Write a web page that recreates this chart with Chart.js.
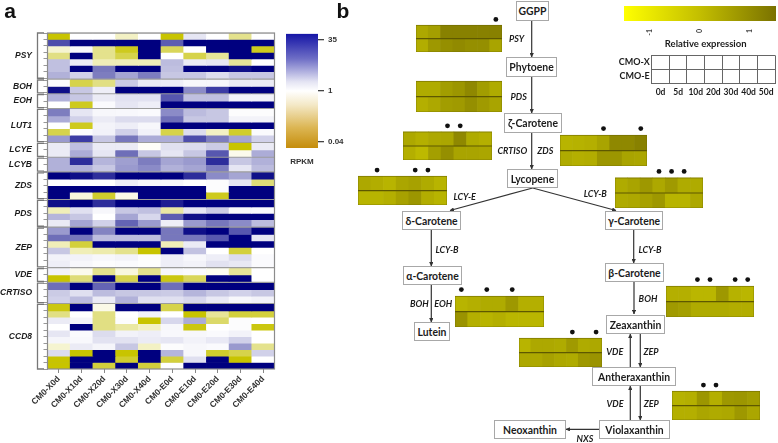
<!DOCTYPE html>
<html>
<head>
<meta charset="utf-8">
<title>Carotenoid pathway expression</title>
<script src="https://cdn.jsdelivr.net/npm/chart.js@4"></script>
<style>
    html, body { margin: 0; padding: 0; background: #fff; }
    #page { position: relative; width: 778px; height: 443px; overflow: hidden; filter: blur(0.3px); }
    #page canvas { position: absolute; }
    #page svg { position: absolute; left: 0; top: 0; }
    .node { position: absolute; box-sizing: border-box; border: 1px solid #a8a8a8; background: #fff; color: #1c1c1c;
            font: bold 10.4px Lato, sans-serif; display: flex; align-items: center; justify-content: center; white-space: nowrap; }
    .enz { position: absolute; transform: translate(-50%, -50%); color: #1c1c1c; font: italic bold 9px Lato, sans-serif; white-space: nowrap; }
    .plain { position: absolute; transform: translate(-50%, -50%); white-space: nowrap; }
</style>
</head>
<body>
<div id="page"></div>
<script>
// panel a: colour score per cell, -1 is 0.04 RPKM, 0 is 1 RPKM, 1 is 35 RPKM
const samples = ['CM0-X0d', 'CM0-X10d', 'CM0-X20d', 'CM0-X30d', 'CM0-X40d', 'CM0-E0d', 'CM0-E10d', 'CM0-E20d', 'CM0-E30d', 'CM0-E40d'];
const psyRows = [
    [-1, 0, 0, -.25, 0, -1, .15, 0, -.5, 0],
    [.75, 1, 1, 1, 1, .7, 1, 1, 1, 1],
    [-.2, .05, -.5, -.9, 1, -.7, 0, 1, 1, -.9],
    [-.55, 1, -.5, -.75, 1, 0, -.75, -.45, 1, 1],
    [.33, .12, -.3, -.3, -.3, .35, .12, .15, -.45, 0],
    [.33, 1, .62, 1, 1, .33, 1, 1, .95, 1],
    [.4, .25, .6, .45, .6, .3, .3, .2, .3, .3]
];
const bohRows = [
    [.03, -.75, -.55, .28, .12, .1, .05, .05, .12, .12],
    [.95, .3, .1, 1, 1, 1, .55, .8, 1, 1]
];
const eohRows = [
    [.4, .3, .12, .17, .17, .72, .33, .33, .08, .08],
    [0, -.9, .03, .15, .1, 1, 1, 1, 1, 1]
];
const lut1Rows = [
    [.6, .15, .05, .04, .03, .55, .35, .3, .02, .02],
    [.42, .25, .12, .2, .2, .65, .3, .3, .07, .07],
    [0, -.9, .07, .1, .05, 1, 1, 1, 1, 1],
    [-.75, .02, .08, .25, .08, -.75, .2, -.25, -.85, .03],
    [.5, .8, .3, .62, .42, .42, .75, .6, .45, .25]
];
const lcyeRows = [
    [.12, .33, .12, .12, -.03, .18, .2, .28, -1, .12],
    [.12, .42, .15, .65, .3, .15, .3, .72, -.08, .42]
];
const lcybRows = [
    [.4, .85, .38, .48, .6, .45, .5, .85, .3, .4],
    [.4, .4, .3, .5, .55, .4, .45, .6, .15, .35]
];
const zdsRows = [
    [1, .95, .85, 1, 1, 1, .85, .55, .45, .95],
    [0, 0, 0, .1, .05, .05, 0, .02, .15, -.6],
    [1, 1, 1, 1, 1, 1, 1, .02, 1, 1],
    [1, -.15, -.85, -.1, 1, 1, 1, -.9, 1, 1]
];
const pdsRows = [
    [.95, 1, .85, 1, 1, .9, 1, 1, 1, 1],
    [-.3, .18, .05, .3, .33, -.4, .15, .28, .05, .03],
    [.38, .3, 0, .45, .22, .7, .95, 1, 1, 1],
    [.12, .45, .25, .68, .5, .1, .5, .62, .55, .35]
];
const zepRows = [
    [.5, 1, .58, 1, 1, .62, .95, 1, .72, 1],
    [.65, .62, .35, .35, .35, .62, .62, .72, 1, .15],
    [-.3, -.8, 1, 1, 1, -.3, .12, 1, 1, 1],
    [.3, -.3, -.35, -.5, -1, 1, .32, 0, -.8, 0],
    [.08, .08, .05, .07, .02, .1, .05, .1, .2, .03],
    [.1, .05, .02, .03, .01, .1, .08, .17, .14, .03]
];
const vdeRows = [
    [.08, -.08, -.5, -.15, -.5, .05, .03, -.06, -.45, 0],
    [-1, -.6, 1, -.75, 1, -.95, -.7, 1, 1, 0]
];
const crtisoRows = [
    [.65, 1, .68, 1, 1, .65, 1, 1, 1, 1],
    [.28, .18, .35, .3, .3, .28, .38, .3, .25, .3],
    [.25, .35, .12, .4, .18, .18, .22, .13, .05, .08]
];
const ccd8Rows = [
    [-.95, 1, -.1, 1, 1, -.75, 1, 1, 1, 1],
    [-.55, 0, -.55, 0, .08, 0, -1, -.45, -.8, -.8],
    [.12, .06, -.55, .02, -1, .22, .42, -.65, .02, 0],
    [0, 1, -.55, -.4, -.25, .05, -.95, 0, .02, -.95],
    [.15, .03, .2, .08, .1, .04, .05, .03, .08, 0],
    [.06, .04, .17, .17, .12, .15, .08, .13, .25, 0],
    [-.2, .12, .06, .3, -.25, .02, .05, .03, .5, -.5],
    [.2, -1, 1, -1, 1, .38, .05, -.85, -.75, .25],
    [-1, 1, 1, -.85, 1, -.8, .18, 1, -1, 0],
    [-1, 1, -.8, 1, -.8, 0, 1, 1, 1, 1]
];
const geneNames = ['PSY', 'BOH', 'EOH', 'LUT1', 'LCYE', 'LCYB', 'ZDS', 'PDS', 'ZEP', 'VDE', 'CRTISO', 'CCD8'];
const geneRows = [psyRows, bohRows, eohRows, lut1Rows, lcyeRows, lcybRows, zdsRows, pdsRows, zepRows, vdeRows, crtisoRows, ccd8Rows];
const rpkmTicks = [0.04, 1, 35];

// panel b: relative expression, two rows by seven days, and the days with a dot
const days = ['0d', '5d', '10d', '20d', '30d', '40d', '50d'];
const lines = ['CMO-X', 'CMO-E'];
const relTicks = [-1, 0, 1];
const psyExpr = [[.35, .55, 1.2, 1.2, 1.2, 1.2, 1.2], [.25, .7, .9, 1, .9, .9, .45]];
const pdsExpr = [[.3, .3, .6, .75, 1.05, .6, .3], [.2, .35, .6, .65, .9, .65, .45]];
const crtisoExpr = [[.35, .2, .35, .4, 1.05, .3, .2], [.2, 0, .55, .9, .45, .45, .4]];
const zdsExpr = [[.1, .15, .2, .45, 1.05, 1.05, 1.2], [.3, .2, .25, .75, .75, .45, .4]];
const lcyeExpr = [[.35, .25, .1, .4, .5, .3, .1], [.1, .1, .2, .5, .75, .25, .1]];
const lcybExpr = [[.3, .45, .7, .35, .65, .3, .3], [.3, .35, .5, .7, .1, .1, .35]];
const eohExpr = [[.1, .2, .3, .3, .7, .2, .2], [.8, .2, .1, .2, .05, .05, .05]];
const bohExpr = [[.2, .2, .05, .05, .7, .15, .05], [.65, .55, .3, .3, .3, .25, .25]];
const vdeExpr = [[.1, .35, .35, .3, .65, .3, .35], [.35, .35, .5, .35, .3, .7, .8]];
const zepExpr = [[.15, .2, .75, .2, .7, .75, .6], [.2, .2, .4, .3, .35, .7, .4]];
const psyDots = [6];
const pdsDots = [];
const crtisoDots = [3, 4];
const zdsDots = [3, 6];
const lcyeDots = [1, 4, 5];
const lcybDots = [3, 4, 5];
const eohDots = [0, 2, 4];
const bohDots = [2, 3, 5, 6];
const vdeDots = [4, 6];
const zepDots = [2, 3];

const page = document.getElementById('page');
Chart.defaults.animation = false;
Chart.defaults.responsive = false;
Chart.defaults.layout.autoPadding = false;
Chart.defaults.plugins.legend.display = false;
Chart.defaults.plugins.tooltip.enabled = false;

function addCanvas(left, top, width, height) {
    const c = document.createElement('canvas');
    c.width = width;
    c.height = height;
    c.style.left = left + 'px';
    c.style.top = top + 'px';
    c.style.width = width + 'px';
    c.style.height = height + 'px';
    page.appendChild(c);
    return c;
}

function mixStops(stops, v) {
    if (v <= stops[0][0]) return stops[0][1];
    for (let i = 1; i < stops.length; i++) {
        if (v <= stops[i][0]) {
            const t = (v - stops[i - 1][0]) / (stops[i][0] - stops[i - 1][0]);
            const a = stops[i - 1][1], b = stops[i][1];
            return [a[0] + (b[0] - a[0]) * t, a[1] + (b[1] - a[1]) * t, a[2] + (b[2] - a[2]) * t];
        }
    }
    return stops[stops.length - 1][1];
}

const rpkmStops = [
    [-1, [200, 196, 0]], [-.6, [222, 220, 120]], [-.3, [240, 238, 184]], [0, [255, 255, 255]],
    [.15, [230, 230, 243]], [.35, [188, 188, 222]], [.5, [154, 154, 206]], [.65, [110, 110, 184]],
    [.8, [60, 60, 164]], [1, [0, 0, 127]]
];
const exprStops = [[-1.52, [255, 255, 0]], [1.52, [122, 114, 0]]];

function rgb(c) {
    return 'rgb(' + Math.round(c[0]) + ',' + Math.round(c[1]) + ',' + Math.round(c[2]) + ')';
}

// panel a heatmap, one floating bar per cell, a thin gap between genes
const geneGap = 0.27;
let heatSets = [];
let heatTicks = [];
let geneSpans = [];
let pos = 0;
geneRows.forEach(function (rows, g) {
    const start = pos;
    rows.forEach(function (row) {
        heatTicks.push(pos);
        const from = pos;
        heatSets.push({
            data: row.map(function () { return [from, from + 1]; }),
            backgroundColor: row.map(function (v) { return rgb(mixStops(rpkmStops, v)); })
        });
        pos += 1;
    });
    heatTicks.push(pos);
    geneSpans.push({ name: geneNames[g], from: start, to: pos });
    pos += geneGap;
});
const heatEnd = pos - geneGap;

const heatDecor = {
    id: 'heatDecor',
    beforeDatasetsDraw: function (chart) {
        const a = chart.chartArea;
        chart.ctx.fillStyle = '#9c9c9c';
        chart.ctx.fillRect(a.left, a.top, a.width, a.height);
    },
    afterDraw: function (chart) {
        const ctx = chart.ctx, a = chart.chartArea, y = chart.scales.y;
        ctx.save();
        ctx.strokeStyle = '#8c8c8c';
        ctx.lineWidth = 1.2;
        ctx.strokeRect(a.left, a.top, a.width, a.height);
        ctx.strokeStyle = '#777';
        ctx.lineWidth = 1.3;
        ctx.fillStyle = '#1c1c1c';
        ctx.font = 'italic bold 8.5px "Liberation Sans"';
        ctx.textAlign = 'right';
        ctx.textBaseline = 'middle';
        geneSpans.forEach(function (g) {
            const y0 = y.getPixelForValue(g.from), y1 = y.getPixelForValue(g.to);
            ctx.beginPath();
            ctx.moveTo(44, y0);
            ctx.lineTo(37.5, y0);
            ctx.lineTo(37.5, y1);
            ctx.lineTo(44, y1);
            ctx.stroke();
            ctx.fillText(g.name, 32, (y0 + y1) / 2);
        });
        ctx.restore();
    }
};

new Chart(addCanvas(0, 0, 280, 430), {
    type: 'bar',
    data: { labels: samples, datasets: heatSets },
    plugins: [heatDecor],
    options: {
        layout: { padding: { top: 33, right: 5.5 } },
        datasets: { bar: { grouped: false, categoryPercentage: 1, barPercentage: 1 } },
        scales: {
            x: {
                afterFit: function (s) { s.height = 61; },
                grid: { drawOnChartArea: false, offset: false, color: '#888', tickLength: 4 },
                border: { display: false },
                ticks: {
                    autoSkip: false, minRotation: 45, maxRotation: 45, padding: 1,
                    color: '#333', font: { family: 'Liberation Sans', size: 8.5, weight: 'bold' }
                }
            },
            y: {
                reverse: true,
                min: 0,
                max: heatEnd,
                afterFit: function (s) { s.width = 47.5; },
                afterBuildTicks: function (s) { s.ticks = heatTicks.map(function (v) { return { value: v }; }); },
                grid: { drawOnChartArea: false, color: '#999', tickLength: 4 },
                border: { display: false },
                ticks: { autoSkip: false, callback: function () { return ''; }, padding: 0 }
            }
        }
    }
});

// RPKM colour key
const rpkmPos = { '-1': rpkmTicks[0], '0': rpkmTicks[1], '1': rpkmTicks[2] };
new Chart(addCanvas(280, 25, 72, 150), {
    type: 'bar',
    data: {
        labels: ['RPKM'],
        datasets: [{
            data: [[-1.125, 1.125]],
            backgroundColor: function (ctx) {
                const a = ctx.chart.chartArea;
                if (!a) return '#fff';
                const g = ctx.chart.ctx.createLinearGradient(0, a.top, 0, a.bottom);
                g.addColorStop(0, '#1515a6');
                g.addColorStop(.22, '#6f6fc6');
                g.addColorStop(.42, '#e4e4f3');
                g.addColorStop(.5, '#ffffff');
                g.addColorStop(.62, '#f4e9c8');
                g.addColorStop(.82, '#dcb654');
                g.addColorStop(1, '#c58d0c');
                return g;
            }
        }]
    },
    options: {
        layout: { padding: { top: 7, left: 6, right: 0 } },
        datasets: { bar: { categoryPercentage: 1, barPercentage: 1 } },
        scales: {
            x: {
                afterFit: function (s) { s.height = 27; },
                grid: { display: false },
                border: { display: false },
                ticks: { padding: 1, color: '#333', font: { family: 'Liberation Sans', size: 8, weight: 'bold' } }
            },
            y: {
                position: 'right',
                min: -1.125,
                max: 1.125,
                afterFit: function (s) { s.width = 34; },
                afterBuildTicks: function (s) { s.ticks = [{ value: -1 }, { value: 0 }, { value: 1 }]; },
                grid: { drawOnChartArea: false, color: '#444', tickLength: 6, lineWidth: 1.3 },
                border: { display: false },
                ticks: {
                    padding: 4, color: '#333', font: { family: 'Liberation Sans', size: 8, weight: 'bold' },
                    callback: function (v) { return rpkmPos[String(v)]; }
                }
            }
        }
    }
});

// small two row heatmaps of panel b, y below 0 is the room for the dots
const exprDecor = {
    id: 'exprDecor',
    afterDatasetsDraw: function (chart) {
        const ctx = chart.ctx, a = chart.chartArea, y = chart.scales.y;
        ctx.save();
        ctx.strokeStyle = '#5e5800';
        ctx.lineWidth = 1.1;
        ctx.beginPath();
        ctx.moveTo(a.left, y.getPixelForValue(1));
        ctx.lineTo(a.right, y.getPixelForValue(1));
        ctx.stroke();
        ctx.strokeStyle = 'rgba(110,104,0,.75)';
        ctx.lineWidth = 0.8;
        ctx.strokeRect(a.left, y.getPixelForValue(0), a.width, y.getPixelForValue(2) - y.getPixelForValue(0));
        ctx.restore();
    }
};

function drawExpr(rect, rows, dots) {
    const h = rect.bottom - rect.top;
    const sets = rows.map(function (row, r) {
        return {
            data: row.map(function () { return [r, r + 1]; }),
            backgroundColor: row.map(function (v) { return rgb(mixStops(exprStops, v)); })
        };
    });
    sets.push({
        type: 'line',
        showLine: false,
        pointRadius: 2.4,
        pointBackgroundColor: '#111',
        pointBorderWidth: 0,
        data: days.map(function (d, i) { return dots.indexOf(i) >= 0 ? -0.44 : null; })
    });
    new Chart(addCanvas(rect.left, rect.top - h / 2, rect.right - rect.left, h * 1.5), {
        type: 'bar',
        data: { labels: days, datasets: sets },
        plugins: [exprDecor],
        options: {
            datasets: { bar: { grouped: false, categoryPercentage: 1, barPercentage: 1 } },
            scales: {
                x: { display: false },
                y: { display: false, reverse: true, min: -1, max: 2 }
            }
        }
    });
}

drawExpr({ left: 416, right: 502, top: 25, bottom: 52 }, psyExpr, psyDots);
drawExpr({ left: 416, right: 502, top: 81, bottom: 112 }, pdsExpr, pdsDots);
drawExpr({ left: 403, right: 492, top: 132, bottom: 160 }, crtisoExpr, crtisoDots);
drawExpr({ left: 560, right: 647, top: 135, bottom: 166 }, zdsExpr, zdsDots);
drawExpr({ left: 358, right: 447, top: 176, bottom: 205 }, lcyeExpr, lcyeDots);
drawExpr({ left: 615, right: 703, top: 178, bottom: 208 }, lcybExpr, lcybDots);
drawExpr({ left: 455, right: 544, top: 296, bottom: 327 }, eohExpr, eohDots);
drawExpr({ left: 666, right: 754, top: 286, bottom: 317 }, bohExpr, bohDots);
drawExpr({ left: 519, right: 602, top: 338, bottom: 367 }, vdeExpr, vdeDots);
drawExpr({ left: 672, right: 760, top: 391, bottom: 420 }, zepExpr, zepDots);

// relative expression colour key
new Chart(addCanvas(624, 6, 154, 32), {
    type: 'bar',
    data: {
        labels: ['key'],
        datasets: [{
            data: [[-1.52, 1.52]],
            backgroundColor: function (ctx) {
                const a = ctx.chart.chartArea;
                if (!a) return '#fff';
                const g = ctx.chart.ctx.createLinearGradient(a.left, 0, a.right, 0);
                g.addColorStop(0, 'rgb(255,255,0)');
                g.addColorStop(.5, 'rgb(195,190,0)');
                g.addColorStop(1, 'rgb(122,114,0)');
                return g;
            }
        }]
    },
    options: {
        indexAxis: 'y',
        layout: { padding: { right: 2 } },
        datasets: { bar: { categoryPercentage: 1, barPercentage: 1 } },
        scales: {
            x: {
                min: -1.52,
                max: 1.52,
                afterFit: function (s) { s.height = 17; },
                afterBuildTicks: function (s) { s.ticks = relTicks.map(function (v) { return { value: v }; }); },
                grid: { display: false },
                border: { display: false },
                ticks: { minRotation: 90, maxRotation: 90, padding: 0, color: '#444', font: { family: 'Lato', size: 7, weight: 'bold' } }
            },
            y: { display: false }
        }
    }
});

// empty sample grid under the key
new Chart(addCanvas(600, 48, 178, 54), {
    type: 'bar',
    data: { labels: days, datasets: [{ data: days.map(function () { return null; }) }] },
    options: {
        layout: { padding: { top: 5, right: 3 } },
        scales: {
            x: {
                afterFit: function (s) { s.height = 19; },
                grid: { color: '#666', lineWidth: 1, drawTicks: false },
                border: { color: '#666' },
                ticks: { autoSkip: false, minRotation: 0, maxRotation: 0, padding: 4, color: '#1c1c1c', font: { family: 'Lato', size: 8.5, weight: 'bold' } }
            },
            y: {
                type: 'category',
                labels: lines,
                offset: true,
                afterFit: function (s) { s.width = 51.7; },
                grid: { color: '#666', lineWidth: 1, offset: true, drawTicks: false },
                border: { color: '#666' },
                ticks: { autoSkip: false, padding: 2, color: '#1c1c1c', font: { family: 'Lato', size: 9, weight: 'bold' } }
            }
        }
    }
});

// pathway: compounds, enzymes and arrows
function addNode(text, left, top, right, bottom) {
    const d = document.createElement('div');
    d.className = 'node';
    d.textContent = text;
    d.style.left = left + 'px';
    d.style.top = top + 'px';
    d.style.width = (right - left) + 'px';
    d.style.height = (bottom - top) + 'px';
    page.appendChild(d);
}

function addEnzyme(text, x, y) {
    const d = document.createElement('div');
    d.className = 'enz';
    d.textContent = text;
    d.style.left = x + 'px';
    d.style.top = y + 'px';
    page.appendChild(d);
}

function addPlain(text, x, y, font, color) {
    const d = document.createElement('div');
    d.className = 'plain';
    d.textContent = text;
    d.style.left = x + 'px';
    d.style.top = y + 'px';
    d.style.font = font;
    d.style.color = color;
    page.appendChild(d);
}

const svgNS = 'http://www.w3.org/2000/svg';
const svg = document.createElementNS(svgNS, 'svg');
svg.setAttribute('width', 778);
svg.setAttribute('height', 443);
svg.innerHTML = '<defs><marker id="head" viewBox="0 0 6 6" refX="5.5" refY="3" markerWidth="3.6" markerHeight="3.6" orient="auto">' +
    '<path d="M0 0L6 3L0 6z" fill="#333"/></marker></defs>';
page.appendChild(svg);

function addArrow(x1, y1, x2, y2) {
    const l = document.createElementNS(svgNS, 'line');
    l.setAttribute('x1', x1);
    l.setAttribute('y1', y1);
    l.setAttribute('x2', x2);
    l.setAttribute('y2', y2);
    l.setAttribute('stroke', '#333');
    l.setAttribute('stroke-width', 1.2);
    l.setAttribute('marker-end', 'url(#head)');
    svg.appendChild(l);
}

addArrow(531.7, 21, 531.7, 57);
addArrow(531.7, 77, 531.7, 113);
addArrow(531.7, 133, 531.7, 169);
addArrow(532.7, 188, 450, 210.5);
addArrow(532.7, 188, 616, 210.5);
addArrow(431.3, 230, 431.3, 266);
addArrow(633.7, 230, 633.7, 263);
addArrow(431.3, 285, 431.3, 322);
addArrow(634, 282, 634, 314);
addArrow(630.3, 367, 630.3, 334);
addArrow(640.3, 334, 640.3, 367);
addArrow(630.3, 420, 630.3, 386);
addArrow(640.3, 386, 640.3, 420);
addArrow(599, 429.3, 566, 429.3);

addNode('GGPP', 516, 1, 549, 21);
addNode('Phytoene', 506, 57, 557, 77);
addNode('ζ-Carotene', 504, 113, 562, 133);
addNode('Lycopene', 507, 169, 558, 188);
addNode('δ-Carotene', 402, 211, 461, 230);
addNode('γ-Carotene', 605, 211, 663, 230);
addNode('α-Carotene', 403, 266, 462, 285);
addNode('β-Carotene', 605, 263, 664, 282);
addNode('Lutein', 414, 322, 450, 341);
addNode('Zeaxanthin', 606, 315, 665, 334);
addNode('Antheraxanthin', 592, 367, 676, 386);
addNode('Violaxanthin', 599, 420, 670, 439);
addNode('Neoxanthin', 494, 420, 566, 439);

addEnzyme('PSY', 516.7, 38);
addEnzyme('PDS', 518.7, 95.7);
addEnzyme('CRTISO', 512.3, 150);
addEnzyme('ZDS', 545.3, 150);
addEnzyme('LCY-E', 464.7, 195.7);
addEnzyme('LCY-B', 595.3, 193);
addEnzyme('LCY-B', 447, 248.7);
addEnzyme('LCY-B', 650, 248.7);
addEnzyme('BOH', 419.3, 302.7);
addEnzyme('EOH', 443.3, 302.7);
addEnzyme('BOH', 648, 298.3);
addEnzyme('VDE', 614.7, 350.7);
addEnzyme('ZEP', 651, 350.7);
addEnzyme('VDE', 615, 403.3);
addEnzyme('ZEP', 651.3, 403.3);
addEnzyme('NXS', 585, 437.7);

addPlain('Relative expression', 705.7, 42.7, 'bold 9.5px Lato', '#1c1c1c');
addPlain('a', 10, 11, 'bold 21px "Liberation Sans"', '#111');
addPlain('b', 343, 11, 'bold 21px "Liberation Sans"', '#111');
</script>
</body>
</html>
